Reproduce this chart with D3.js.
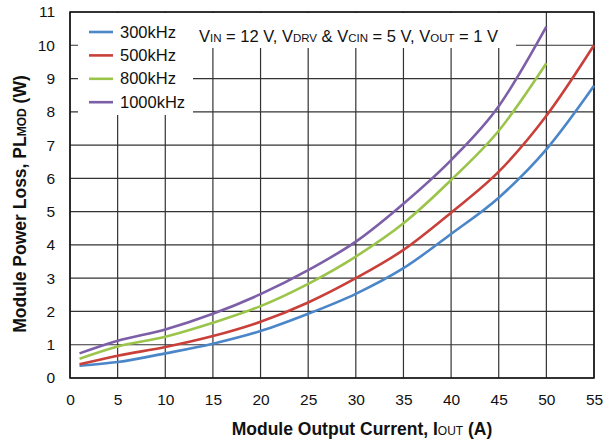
<!DOCTYPE html>
<html>
<head>
<meta charset="utf-8">
<script src="https://cdn.jsdelivr.net/npm/d3@7"></script>
<style>
  body { margin: 0; background: #fff; }
  svg { font-family: "Liberation Sans", Arial, Helvetica, sans-serif; }
</style>
</head>
<body>
<svg id="chart" width="610" height="443"></svg>
<script>
// Output current (A)
const current = [1, 5, 10, 15, 20, 25, 30, 35, 40, 45, 50, 55];

// Module power loss (W) per switching frequency
const loss300 = [0.37, 0.48, 0.74, 1.03, 1.41, 1.93, 2.53, 3.3, 4.33, 5.42, 6.87, 8.78];
const loss500 = [0.41, 0.67, 0.93, 1.26, 1.69, 2.27, 3.0, 3.85, 4.97, 6.2, 7.88, 10.0];
const loss800 = [0.58, 0.95, 1.24, 1.66, 2.16, 2.83, 3.65, 4.65, 5.95, 7.43, 9.46];
const loss1000 = [0.74, 1.12, 1.46, 1.93, 2.52, 3.24, 4.1, 5.24, 6.55, 8.17, 10.56];

const seriesNames = ["300kHz", "500kHz", "800kHz", "1000kHz"];
const seriesColors = ["#4a86c8", "#c9403a", "#9bc44a", "#7d5fa8"];

const xTicks = d3.range(0, 56, 5);
const yTicks = d3.range(0, 12, 1);

const margin = { top: 12, right: 16, bottom: 65, left: 70 };
const width = 610 - margin.left - margin.right;
const height = 443 - margin.top - margin.bottom;

const svg = d3.select("#chart")
  .append("g")
  .attr("transform", `translate(${margin.left},${margin.top})`);

const x = d3.scaleLinear().domain([0, 55]).range([0, width]);
const y = d3.scaleLinear().domain([0, 11]).range([height, 0]);

// grid
svg.append("g")
  .selectAll("line")
  .data(xTicks)
  .enter()
  .append("line")
  .attr("x1", (d) => x(d)).attr("x2", (d) => x(d))
  .attr("y1", 0).attr("y2", height)
  .attr("stroke", "#333").attr("stroke-width", 1.2);

svg.append("g")
  .selectAll("line")
  .data(yTicks)
  .enter()
  .append("line")
  .attr("x1", 0).attr("x2", width)
  .attr("y1", (d) => y(d)).attr("y2", (d) => y(d))
  .attr("stroke", "#333").attr("stroke-width", 1.2);

// white boxes behind legend and conditions text
svg.append("rect")
  .attr("x", 8).attr("y", 1)
  .attr("width", 115).attr("height", 102)
  .attr("fill", "#fff");
svg.append("rect")
  .attr("x", 123).attr("y", 1)
  .attr("width", 323).attr("height", 35)
  .attr("fill", "#fff");

// frame
svg.append("rect")
  .attr("x", 0).attr("y", 0)
  .attr("width", width).attr("height", height)
  .attr("fill", "none")
  .attr("stroke", "#111")
  .attr("stroke-width", 1.5);

// axes (labels only)
const xAxis = svg.append("g")
  .attr("transform", `translate(0,${height})`)
  .call(d3.axisBottom(x).tickValues(xTicks).tickSize(0).tickPadding(16));
const yAxis = svg.append("g")
  .call(d3.axisLeft(y).tickValues(yTicks).tickSize(0).tickPadding(15));
[xAxis, yAxis].forEach((a) => {
  a.select(".domain").remove();
  a.selectAll("text")
    .attr("font-size", "15.5px")
    .attr("fill", "#111")
    .style("font-family", "'Liberation Sans', Arial, sans-serif");
});

// curves
const allSeries = [loss300, loss500, loss800, loss1000];
const line = d3.line()
  .x((d) => x(d[0]))
  .y((d) => y(d[1]))
  .curve(d3.curveMonotoneX);

allSeries.forEach((vals, i) => {
  const pts = vals.map((v, j) => [current[j], v]);
  svg.append("path")
    .datum(pts)
    .attr("fill", "none")
    .attr("stroke", seriesColors[i])
    .attr("stroke-width", 2.6)
    .attr("d", line);
});

// legend
const legend = svg.append("g").attr("transform", "translate(19,20)");
seriesNames.forEach((name, i) => {
  const g = legend.append("g").attr("transform", `translate(0,${i * 23.4})`);
  g.append("line")
    .attr("x1", 0).attr("x2", 24)
    .attr("y1", 0).attr("y2", 0)
    .attr("stroke", seriesColors[i])
    .attr("stroke-width", 2.6);
  g.append("text")
    .attr("x", 31).attr("y", 5.5)
    .attr("font-size", "16.5px")
    .attr("fill", "#111")
    .text(name);
});

// operating conditions
const cond = svg.append("text")
  .attr("x", 129).attr("y", 30)
  .attr("fill", "#111");
const condParts = [
  ["V", false], ["IN", true], [" = 12 V, V", false], ["DRV", true],
  [" & V", false], ["CIN", true], [" = 5 V, V", false], ["OUT", true], [" = 1 V", false]
];
condParts.forEach(([t, sub]) => {
  cond.append("tspan")
    .attr("font-size", sub ? "11.5px" : "16.5px")
    .text(t);
});

// axis titles
const xTitle = svg.append("text")
  .attr("x", 292).attr("y", height + 57)
  .attr("text-anchor", "middle")
  .attr("font-weight", "bold")
  .attr("fill", "#111");
[["Module Output Current, I", false], ["OUT", true], [" (A)", false]].forEach(([t, sub]) => {
  xTitle.append("tspan").attr("font-size", sub ? "12px" : "17.5px")
    .attr("font-weight", sub ? "normal" : "bold").text(t);
});

const yTitle = svg.append("text")
  .attr("transform", `translate(-44,${height / 2 + 9}) rotate(-90)`)
  .attr("text-anchor", "middle")
  .attr("font-weight", "bold")
  .attr("fill", "#111");
[["Module Power Loss, PL", false], ["MOD", true], [" (W)", false]].forEach(([t, sub]) => {
  yTitle.append("tspan").attr("font-size", sub ? "12px" : "17.5px").text(t);
});
</script>
</body>
</html>
